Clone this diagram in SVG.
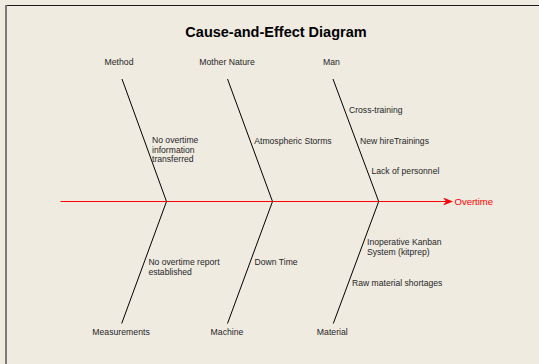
<svg xmlns="http://www.w3.org/2000/svg" width="539" height="364" viewBox="0 0 539 364">
<defs>
<style>
.lbl{font-family:"Liberation Sans",Arial,sans-serif;font-size:8.6px;fill:#262626}
.cat{font-family:"Liberation Sans",Arial,sans-serif;font-size:8.7px;fill:#262626;text-anchor:middle}
.title{font-family:"Liberation Sans",Arial,sans-serif;font-size:14.5px;font-weight:bold;fill:#000;text-anchor:middle}
.bone{stroke:#000;stroke-width:1;fill:none}
</style>
<marker id="arr" viewBox="0 0 10 8" refX="9" refY="4" markerWidth="10" markerHeight="8" markerUnits="userSpaceOnUse" orient="auto">
<path d="M0,0 L10,4 L0,8 L3,4 Z" fill="#FF0000"/>
</marker>
</defs>
<rect x="0" y="0" width="539" height="364" fill="#EFEBE1"/>
<line x1="5" y1="5.5" x2="539" y2="5.5" stroke="#1a1a1a" stroke-width="1"/>
<line x1="6" y1="5" x2="6" y2="364" stroke="#7a7a7a" stroke-width="2"/>
<text class="title" x="276" y="37">Cause-and-Effect Diagram</text>
<g id="connectors">
<line x1="60.5" y1="201.5" x2="452" y2="201.5" stroke="#FF0000" stroke-width="1" marker-end="url(#arr)"/>
<polyline class="bone" points="122,79 166.5,201.5 121.7,323.5"/>
<polyline class="bone" points="227.5,79 272.5,201.5 227.5,323.5"/>
<polyline class="bone" points="333,79 378.7,201.5 333.3,323.5"/>
</g>
<g id="effect"><text x="454.5" y="205" font-family="Liberation Sans, Arial, sans-serif" font-size="9.5px" fill="#FF0000">Overtime</text></g>
<g id="method">
<text class="cat" x="119" y="64.5">Method</text>
<text class="lbl" x="152" y="143">No overtime</text>
<text class="lbl" x="152" y="152.5">information</text>
<text class="lbl" x="152" y="162">transferred</text>
</g>
<g id="mother-nature">
<text class="cat" x="227" y="64.5">Mother Nature</text>
<text class="lbl" x="254.3" y="144">Atmospheric Storms</text>
</g>
<g id="man">
<text class="cat" x="331.5" y="64.5">Man</text>
<text class="lbl" x="349" y="113">Cross-training</text>
<text class="lbl" x="360" y="144">New hireTrainings</text>
<text class="lbl" x="371.5" y="174">Lack of personnel</text>
</g>
<g id="measurements">
<text class="cat" x="121" y="334.5">Measurements</text>
<text class="lbl" x="148.4" y="265.3">No overtime report</text>
<text class="lbl" x="148.4" y="275.3">established</text>
</g>
<g id="machine">
<text class="cat" x="227" y="334.5">Machine</text>
<text class="lbl" x="254.6" y="265">Down Time</text>
</g>
<g id="material">
<text class="cat" x="332.3" y="334.5">Material</text>
<text class="lbl" x="367" y="244.5">Inoperative Kanban</text>
<text class="lbl" x="367" y="254.5">System (kitprep)</text>
<text class="lbl" x="352" y="286.3">Raw material shortages</text>
</g>
</svg>
